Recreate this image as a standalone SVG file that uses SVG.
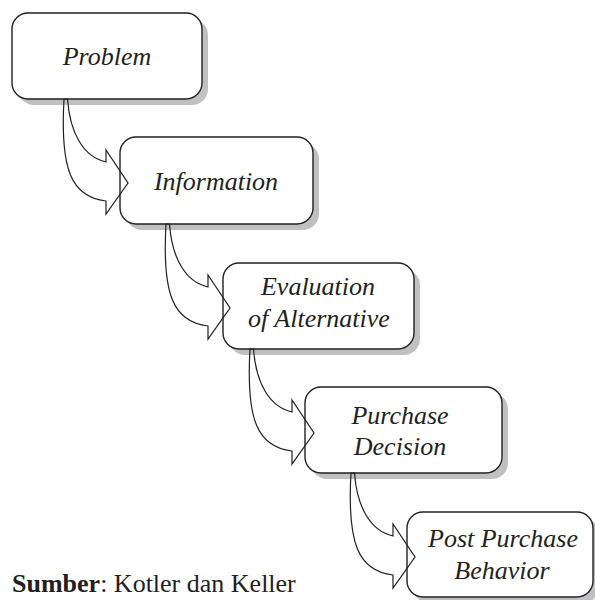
<svg xmlns="http://www.w3.org/2000/svg" xmlns:xlink="http://www.w3.org/1999/xlink" width="595" height="600" viewBox="0 0 595 600">
<style>
.shadow{fill:#bfc0c2;stroke:none}
.box{fill:#ffffff;stroke:#231f20;stroke-width:1.4}
.lbl{font-family:"Liberation Serif","Times New Roman",serif;font-style:italic;font-size:26px;fill:#231f20;text-anchor:middle}
.arrow{fill:none;stroke:#231f20;stroke-width:1.2;stroke-linejoin:miter}
.src{font-family:"Liberation Serif","Times New Roman",serif;font-size:26px;fill:#231f20}
</style>
<defs>
<path id="arr" d="M1.5,0 C4,35 18,58 40,63 L40,51 L62,84 L40,115 L40,102 C5,98 -6,70 -2,0 Z"/>
</defs>
<rect width="595" height="600" fill="#ffffff"/>
<g id="node-problem">
<rect class="shadow" x="18" y="19" width="190" height="86" rx="16"/>
<rect class="box" x="12" y="13" width="190" height="86" rx="16"/>
<text class="lbl" x="107" y="65">Problem</text>
</g>
<g id="node-information">
<rect class="shadow" x="126" y="143" width="193" height="87" rx="16"/>
<rect class="box" x="120" y="137" width="193" height="87" rx="16"/>
<text class="lbl" x="216" y="190">Information</text>
</g>
<g id="node-evaluation">
<rect class="shadow" x="229" y="269" width="191" height="86" rx="16"/>
<rect class="box" x="223" y="263" width="191" height="86" rx="16"/>
<text class="lbl" x="318" y="295">Evaluation</text>
<text class="lbl" x="319" y="327">of Alternative</text>
</g>
<g id="node-purchase">
<rect class="shadow" x="311" y="393" width="197" height="86" rx="16"/>
<rect class="box" x="305" y="387" width="197" height="86" rx="16"/>
<text class="lbl" x="400" y="424">Purchase</text>
<text class="lbl" x="400" y="455">Decision</text>
</g>
<g id="node-post">
<rect class="shadow" x="413" y="518" width="186" height="85" rx="16"/>
<rect class="box" x="407" y="512" width="186" height="85" rx="16"/>
<text class="lbl" x="503" y="547">Post Purchase</text>
<text class="lbl" x="502" y="579">Behavior</text>
</g>
<g id="connectors">
<use class="arrow" xlink:href="#arr" href="#arr" transform="translate(66,99)"/>
<use class="arrow" xlink:href="#arr" href="#arr" transform="translate(168,224)"/>
<use class="arrow" xlink:href="#arr" href="#arr" transform="translate(252,349)"/>
<use class="arrow" xlink:href="#arr" href="#arr" transform="translate(353,473)"/>
</g>
<text class="src" x="12" y="592"><tspan font-weight="bold">Sumber</tspan>: Kotler dan Keller</text>
</svg>
